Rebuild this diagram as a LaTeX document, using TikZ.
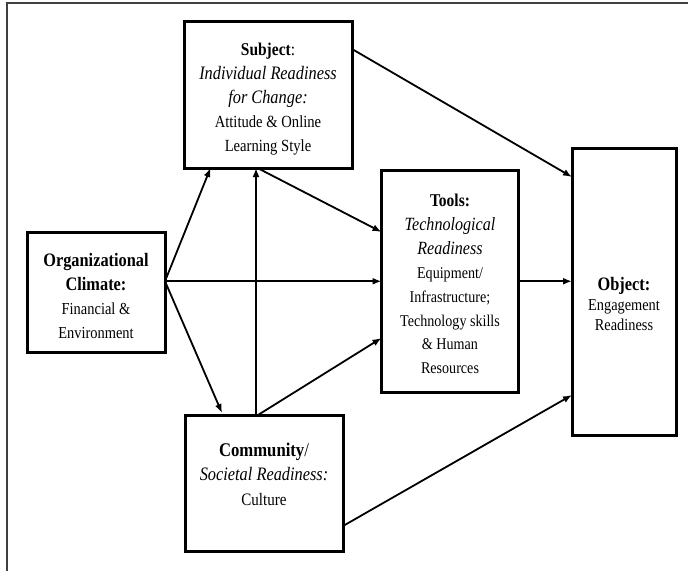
\documentclass[tikz,border=0pt]{standalone}
\usepackage{fontspec}
\setmainfont{Liberation Serif}[FakeStretch=0.86]
\usetikzlibrary{arrows.meta,calc}
\newcommand\fsz[2]{\fontsize{#1}{#2}\selectfont}
\begin{document}
\begin{tikzpicture}[x=1pt,y=-1pt,
  box/.style={draw=black,line width=3pt,inner sep=0pt,outer sep=0pt,fill=white},
  txt/.style={align=center,inner sep=0pt,text=black},
  link/.style={line width=1.8pt,-{Latex[length=9pt,width=7pt]}},
  frame/.style={draw=black!75,line width=2pt}]
\useasboundingbox[fill=white] (0,0) rectangle (688,571);

% outer frame (top and left edges only)
\draw[frame] (7,571) -- (7,3) -- (688,3);

% boxes
\node[box,minimum width=167.5pt,minimum height=147pt] (subj)  at (268.25,94.5) {};
\node[box,minimum width=138pt,minimum height=120pt]   (org)   at (96,292) {};
\node[box,minimum width=137pt,minimum height=222.5pt] (tools) at (450,281.25) {};
\node[box,minimum width=104pt,minimum height=287pt]   (obj)   at (624,291.5) {};
\node[box,minimum width=158pt,minimum height=136pt]   (comm)  at (264,483) {};

% box texts
\node[txt,font=\fsz{17}{24}] (subjtxt) at (268,99)
  {{\fsz{18}{24}\textbf{Subject}:}\\
   {\itshape\fsz{19}{24}Individual Readiness}\\
   {\itshape\fsz{19}{24}for Change:}\\
   Attitude \& Online\\
   Learning Style};
\node[txt,font=\fsz{16.8}{24}] (orgtxt) at (96,296)
  {{\bfseries\fsz{19}{24}Organizational}\\
   {\bfseries\fsz{19}{24}Climate:}\\
   Financial \&\\
   Environment};
\node[txt,font=\fsz{16.4}{23.9}] (toolstxt) at (450,284)
  {{\bfseries\fsz{18}{23.9}Tools:}\\
   {\itshape\fsz{18.7}{23.9}Technological}\\
   {\itshape\fsz{18.7}{23.9}Readiness}\\
   Equipment/\\
   Infrastructure;\\
   Technology skills\\
   \& Human\\
   Resources};
\node[txt,font=\fsz{16.7}{20}] (objtxt) at (624,304)
  {{\bfseries\fsz{19}{20}Object:}\\
   Engagement\\
   Readiness};
\node[txt,font=\fsz{17.5}{24.5}] (commtxt) at (264,474)
  {{\fsz{19.4}{24.5}\textbf{Community}/}\\
   {\itshape\fsz{19}{24.5}Societal Readiness:}\\
   Culture};

% connectors
\coordinate (orgout) at (org.east |- tools.west);
\draw[link] (orgout) -- ($(subj.south west)+(26,0)$);
\draw[link] (orgout) -- ($(comm.north west)+(37,-2)$);
\draw[link] (orgout) -- (tools.west);
\draw[link] ($(comm.north west)+(71,0)$) -- ($(subj.south west)+(71.5,0)$);
\draw[link] ($(subj.south west)+(73,0)$) -- ($(tools.north west)+(0,62)$);
\draw[link] ($(comm.north west)+(73,0)$) -- ($(tools.north west)+(0,168)$);
\draw[link] ($(subj.north east)+(0,28)$) -- ($(obj.north west)+(0,29)$);
\draw[link] (tools.east) -- (tools.east -| obj.west);
\draw[link] ($(comm.south east)+(0,-25)$) -- ($(obj.north west)+(0,247)$);
\end{tikzpicture}
\end{document}
